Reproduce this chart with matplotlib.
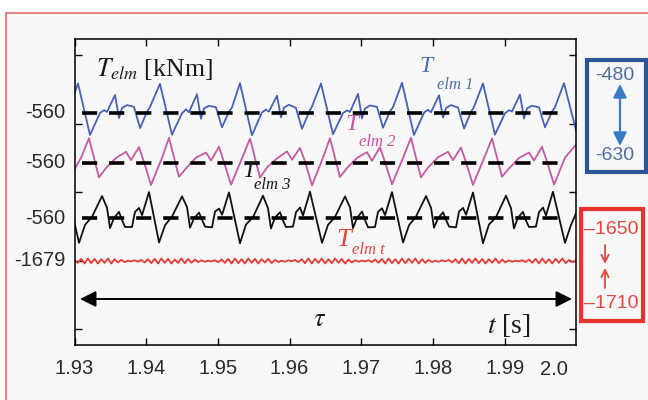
import numpy as np
import matplotlib
matplotlib.use("Agg")
import matplotlib.pyplot as plt
from matplotlib.patches import Rectangle
from matplotlib.transforms import blended_transform_factory

plt.rcParams['font.family'] = ['Liberation Sans', 'DejaVu Sans']
plt.rcParams['mathtext.fontset'] = 'stix'

T0 = 1.93  # s, start of the window

# T_elm1 (blue) - corner points, time in ms after T0, torque in kNm
t1_ms = [0.00,
         0.49, 2.16, 3.56, 4.12, 4.53, 5.65, 6.21, 6.63, 7.32, 8.30, 9.14, 10.11, 10.53,
         11.92, 13.59, 14.99, 15.55, 15.96, 17.08, 17.64, 18.06, 18.75, 19.73, 20.57, 21.54, 21.96,
         23.08, 24.75, 26.15, 26.71, 27.12, 28.24, 28.80, 29.22, 29.91, 30.89, 31.73, 32.70, 33.12,
         34.38, 36.05, 37.45, 38.01, 38.42, 39.54, 40.10, 40.52, 41.21, 42.19, 43.03, 44.00, 44.42,
         45.68, 47.35, 48.75, 49.31, 49.72, 50.84, 51.40, 51.82, 52.51, 53.49, 54.33, 55.30, 55.72,
         56.97, 58.64, 60.04, 60.60, 61.01, 62.13, 62.69, 63.11, 63.80, 64.78, 65.62, 66.59, 67.01,
         68.27, 70.00]
T1 = [-505,
      -478, -621, -560, -552, -557, -510, -574, -546, -538, -543, -602, -557, -543,
      -479, -620, -561, -550, -558, -508, -576, -547, -540, -544, -600, -556, -545,
      -477, -622, -558, -551, -556, -512, -572, -545, -537, -546, -604, -558, -542,
      -478, -619, -560, -553, -557, -507, -575, -548, -539, -543, -601, -555, -544,
      -476, -621, -559, -551, -558, -511, -573, -546, -538, -545, -603, -557, -543,
      -478, -620, -561, -552, -556, -509, -575, -547, -540, -544, -600, -556, -544,
      -477, -612]

# T_elm2 (magenta)
t2_ms = [0.00, 0.90,
         2.02, 3.41, 4.39, 5.79, 7.18, 7.88, 8.99, 9.69, 10.67, 12.20,
         13.18, 14.57, 15.55, 16.95, 18.34, 19.04, 20.15, 20.85, 21.83, 23.36,
         24.48, 25.87, 26.85, 28.25, 29.64, 30.34, 31.45, 32.15, 33.13, 34.66,
         35.63, 37.02, 38.00, 39.40, 40.79, 41.49, 42.60, 43.30, 44.28, 45.81,
         46.93, 48.32, 49.30, 50.70, 52.09, 52.79, 53.90, 54.60, 55.58, 57.11,
         58.23, 59.62, 60.60, 62.00, 63.39, 64.09, 65.20, 65.90, 66.88, 68.41,
         70.00]
T2 = [-578, -546,
      -491, -600, -574, -546, -529, -552, -516, -557, -621, -546,
      -490, -598, -575, -545, -531, -553, -515, -558, -620, -547,
      -492, -601, -572, -547, -528, -551, -518, -556, -622, -545,
      -491, -599, -574, -546, -530, -554, -516, -557, -619, -546,
      -490, -600, -573, -544, -529, -552, -517, -558, -621, -547,
      -492, -598, -575, -546, -531, -553, -515, -556, -620, -545,
      -508]

# T_elm3 (black)
t3_ms = [0.00,
         0.63, 1.47, 2.44, 3.84, 4.54, 4.95, 5.51, 6.21, 6.63, 7.05, 8.02, 8.44, 9.00, 9.42, 10.39,
         11.79, 12.63, 13.60, 15.00, 15.70, 16.11, 16.67, 17.37, 17.79, 18.21, 19.18, 19.60, 20.16, 20.58, 21.55,
         23.08, 23.92, 24.89, 26.29, 26.99, 27.40, 27.96, 28.66, 29.08, 29.50, 30.47, 30.89, 31.45, 31.87, 32.84,
         34.52, 35.36, 36.33, 37.73, 38.43, 38.84, 39.40, 40.10, 40.52, 40.94, 41.91, 42.33, 42.89, 43.31, 44.28,
         45.82, 46.66, 47.63, 49.03, 49.73, 50.14, 50.70, 51.40, 51.82, 52.24, 53.21, 53.63, 54.19, 54.61, 55.58,
         56.97, 57.81, 58.78, 60.18, 60.88, 61.29, 61.85, 62.55, 62.97, 63.39, 64.36, 64.78, 65.34, 65.76, 66.73,
         68.41, 69.25, 70.00]
T3 = [-574,
      -629, -579, -557, -499, -532, -588, -560, -543, -566, -585, -585, -543, -532, -552, -488,
      -628, -580, -556, -500, -530, -587, -561, -545, -565, -584, -586, -542, -534, -551, -489,
      -630, -578, -558, -498, -533, -589, -559, -544, -567, -585, -584, -544, -531, -553, -487,
      -629, -579, -557, -500, -531, -588, -560, -542, -566, -586, -585, -543, -533, -552, -488,
      -628, -580, -556, -499, -532, -587, -561, -544, -565, -584, -586, -542, -532, -551, -489,
      -630, -578, -558, -498, -533, -589, -559, -543, -567, -585, -584, -544, -531, -553, -487,
      -629, -579, -545]

# T_elm t (red), sampled every RED_DT ms from T0
RED_DT = 0.466
Tt = [-1677, -1684, -1673, -1686, -1672, -1685, -1673, -1686, -1674, -1684, -1672, -1686,
      -1674, -1683, -1676, -1682, -1678, -1680, -1677, -1681, -1676, -1683, -1674, -1685,
      -1673, -1686, -1672, -1684, -1673, -1686, -1675, -1684, -1672, -1685, -1673, -1684,
      -1675, -1682, -1677, -1681, -1678, -1680, -1677, -1682, -1675, -1684, -1673, -1686,
      -1672, -1685, -1674, -1686, -1672, -1684, -1673, -1686, -1674, -1683, -1673, -1685,
      -1676, -1682, -1678, -1681, -1677, -1680, -1676, -1682, -1674, -1685, -1672, -1686,
      -1673, -1684, -1672, -1686, -1674, -1685, -1672, -1684, -1673, -1686, -1675, -1683,
      -1677, -1681, -1678, -1680, -1677, -1682, -1675, -1684, -1673, -1686, -1672, -1685,
      -1674, -1686, -1672, -1685, -1673, -1684, -1672, -1686, -1674, -1684, -1676, -1682,
      -1678, -1681, -1677, -1680, -1676, -1683, -1674, -1685, -1672, -1686, -1673, -1684,
      -1672, -1685, -1673, -1686, -1674, -1684, -1672, -1685, -1675, -1683, -1677, -1681,
      -1678, -1680, -1677, -1682, -1675, -1684, -1673, -1686, -1672, -1685, -1674, -1686,
      -1673, -1684, -1672, -1685, -1676, -1682, -1679]

x_ticks = [1.93, 1.94, 1.95, 1.96, 1.97, 1.98, 1.99]
x_labels = ['1.93', '1.94', '1.95', '1.96', '1.97', '1.98', '1.99']

# each trace gets its own strip: (trace mean, strip height in plot units)
G = 0.36
strips = {'1': (-560, 232), '2': (-560, 182), '3': (-560, 127), 't': (-1679, 84)}


def to_strip(vals, key):
    mean, base = strips[key]
    return base + (np.asarray(vals, dtype=float) - mean) * G


def to_time(ms):
    return T0 + np.asarray(ms, dtype=float) / 1000.0


fig = plt.figure(figsize=(6.48, 4.0), dpi=100, facecolor='white')

# background panel in pixel coordinates (frame and range boxes)
bg = fig.add_axes([0, 0, 1, 1], zorder=-1)
bg.set_xlim(0, 648)
bg.set_ylim(400, 0)
bg.axis('off')
bg.add_patch(Rectangle((6, 13), 700, 450, facecolor='#f7f7f7', edgecolor='#e06a6a', lw=1.2))

ax = fig.add_axes([74.5 / 648, 1 - 345 / 400, 501.9 / 648, 306 / 400])
ax.set_facecolor('none')
ax.set_xlim(1.93, 2.0)
ax.set_ylim(0, 306)

ax.plot(to_time(t1_ms), to_strip(T1, '1'), color='#4762b3', lw=1.3)
ax.plot(to_time(t2_ms), to_strip(T2, '2'), color='#c25aa6', lw=1.3)
ax.plot(to_time(t3_ms), to_strip(T3, '3'), color='#111111', lw=1.3)
t_red = to_time(RED_DT * np.arange(len(Tt)))
ax.plot(t_red, to_strip(Tt, 't'), color='#e23b36', lw=1.3)

# mean values as thick dashes
d0, d1 = T0 + 7.5 / 7170, T0 + 495 / 7170
for key in ['1', '2', '3']:
    y = strips[key][1]
    ax.plot([d0, d1], [y, y], color='black', lw=2.6, ls=(0, (4.2, 3.3)), zorder=3)

ax.set_xticks(x_ticks)
ax.set_xticklabels(x_labels)
ax.text(1.9969, -0.08, '2.0', transform=blended_transform_factory(ax.transData, ax.transAxes),
        ha='center', va='center', fontsize=14.5, color='#2a2a2a')
ax.set_yticks([16, 84.5, 153, 221.5, 290])
ax.set_yticklabels([])
ax.tick_params(direction='in', length=5, width=1, top=True, right=True,
               labelsize=14.5, labelcolor='#2a2a2a', pad=10)
for s in ax.spines.values():
    s.set_linewidth(1.1)

ytr = blended_transform_factory(ax.transAxes, ax.transData)
for key, lab in [('1', '-560'), ('2', '-560'), ('3', '-560'), ('t', '-1679')]:
    ax.text(-0.018, strips[key][1], lab, transform=ytr, ha='right', va='center',
            fontsize=14.5, color='#2a2a2a')

serif = 'Liberation Serif'
ax.text(1.9330, 269, r'$T_{elm}$ [kNm]', family=serif, fontsize=18.5, color='#1a1a1a')

labels = [('1', 1.97805, 273, 1.98056, 256, '#4a6fb8', 17),
          ('2', 1.96773, 215, 1.96968, 199, '#c4559f', 17),
          ('3', 1.95336, 168, 1.95503, 156, '#1a1a1a', 17),
          ('t', 1.96647, 99, 1.96870, 91, '#e2453f', 19)]
for key, xT, yT, xs, ys, col, fs in labels:
    ax.text(xT, yT, 'T', family=serif, style='italic', fontsize=fs, color=col)
    ax.text(xs, ys, 'elm ' + key, family=serif, style='italic', fontsize=12, color=col)

# time window arrow
ax.annotate('', xy=(T0 + 497.5 / 7170, 46), xytext=(T0 + 5.5 / 7170, 46),
            arrowprops=dict(arrowstyle='<|-|>', color='black', lw=1.4,
                            mutation_scale=24, shrinkA=0, shrinkB=0))
ax.text(1.96326, 19, r'$\tau$', fontsize=19, color='#1a1a1a')
ax.text(1.98753, 12, r'$t$ [s]', family=serif, fontsize=20, color='#1a1a1a')

# range boxes on the right
bg.add_patch(Rectangle((587, 60), 59, 112, facecolor='none', edgecolor='#2c5595', lw=3))
bg.text(615, 75, '-480', ha='center', va='center', fontsize=14, color='#4f6f9e')
bg.text(615, 156, '-630', ha='center', va='center', fontsize=14, color='#4f6f9e')
bg.annotate('', xy=(620, 84), xytext=(620, 146),
            arrowprops=dict(arrowstyle='<|-|>', color='#3a7cc4', lw=1.6,
                            mutation_scale=20, shrinkA=0, shrinkB=0))

bg.add_patch(Rectangle((581, 209), 62, 112, facecolor='none', edgecolor='#e8332e', lw=3))
bg.text(611, 229, '\u20131650', ha='center', va='center', fontsize=14, color='#e0483e')
bg.text(611, 304, '\u20131710', ha='center', va='center', fontsize=14, color='#e0483e')
bg.annotate('', xy=(605, 264), xytext=(605, 245),
            arrowprops=dict(arrowstyle='->', color='#e0483e', lw=1.3,
                            mutation_scale=13, shrinkA=0, shrinkB=0))
bg.annotate('', xy=(605, 268), xytext=(605, 288),
            arrowprops=dict(arrowstyle='->', color='#e0483e', lw=1.3,
                            mutation_scale=13, shrinkA=0, shrinkB=0))

fig.savefig('out.png', dpi=100, facecolor=fig.get_facecolor())
